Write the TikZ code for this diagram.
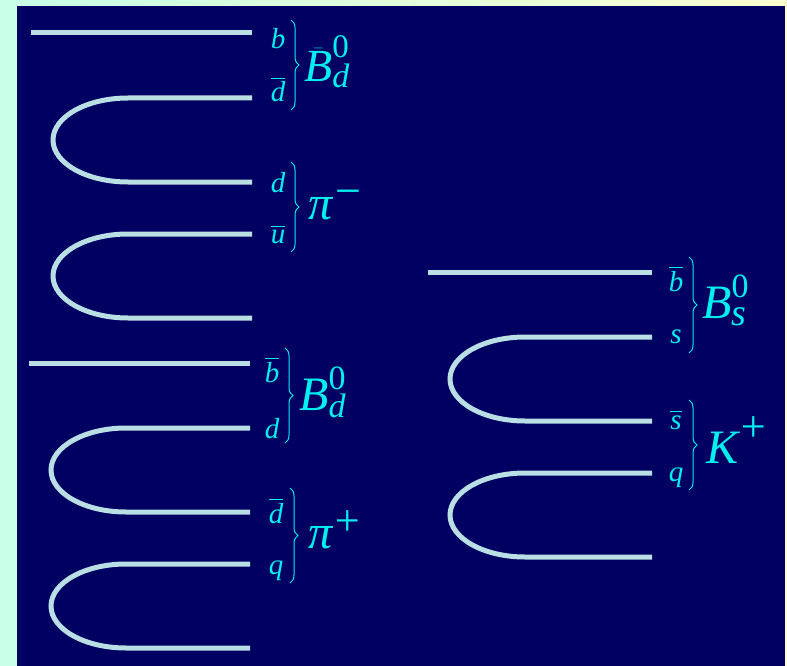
\documentclass[tikz,border=0pt]{standalone}
\usepackage{amsmath}
\usepackage{fontspec}
\setmainfont{Liberation Serif}
\usetikzlibrary{decorations.pathreplacing}

\definecolor{navy}{RGB}{0,0,98}
\definecolor{quarkline}{RGB}{185,222,228}
\definecolor{labelcyan}{RGB}{0,240,240}
\definecolor{mint}{RGB}{200,255,230}
\definecolor{cream}{RGB}{252,255,208}

% large scripts of the meson names
\newcommand{\mesonscr}[2][34]{\text{\fontsize{#1}{#1}\selectfont #2}}

\begin{document}
\begin{tikzpicture}[x=1pt, y=1pt,
  quark/.style={draw=quarkline, line width=5pt},
  flav/.style={text=labelcyan, inner sep=0pt, anchor=base,
    font=\fontsize{29}{29}\selectfont\itshape},
  meson/.style={text=labelcyan, inner sep=0pt, anchor=west,
    font=\fontsize{48}{48}\selectfont\itshape},
  brc/.style={draw=labelcyan, line width=1pt, decorate,
    decoration={brace, amplitude=8pt}}]
  \useasboundingbox (0,0) rectangle (787,-666);
  \shade[left color=mint, right color=cream] (0,0) rectangle (787,-666);
  \fill[navy] (17,-6) rectangle (785,-666);

  % spectator (straight) quark lines
  \draw[quark] (31,-33) -- (252,-33);
  \draw[quark] (29,-363) -- (250,-363);
  \draw[quark] (428,-272) -- (652,-272);
  % pair-created quark lines: start x / upper y / end x
  \foreach \x/\y/\e in {128/98/252, 128/234/252, 126/428/250,
                        126/564/250, 525/337/652, 525/473/652} {
    \draw[quark] (\e,-\y) -- (\x,-\y)
      arc[start angle=90, end angle=270, x radius=75, y radius=42]
      -- (\e,-\y-84);
  }

  % B-bar_d -> pi-
  \node[flav] (b1) at (278,-49) {b};
  \node[flav] (db1) at (278,-102) {$\overline{\text{d}}$};
  \node[flav] (d1) at (278,-193) {d};
  \node[flav] (ub1) at (278,-243) {$\overline{\text{u}}$};
  \coordinate (br1a) at (291,-20);
  \coordinate (br1b) at (291,-110);
  \coordinate (br2a) at (291,-162);
  \coordinate (br2b) at (291,-252);
  \draw[brc] (br1a) -- (br1b);
  \draw[brc] (br2a) -- (br2b);
  \node[meson, font=\fontsize{46}{46}\selectfont\itshape] (Bbar) at (304,-62)
    {$\bar{\text{B}}^{\mesonscr[33]{\upshape 0}}_{\mesonscr[34]{d}}$};
  \node[meson] (pim) at (308,-205)
    {$\text{π}^{\mesonscr[46]{−}}$};

  % B_d -> pi+
  \node[flav] (bb2) at (272,-382) {$\overline{\text{b}}$};
  \node[flav] (d2) at (272,-438) {d};
  \node[flav] (db2) at (276,-523) {$\overline{\text{d}}$};
  \node[flav] (q2) at (276,-574) {q};
  \coordinate (br3a) at (285,-348);
  \coordinate (br3b) at (285,-443);
  \coordinate (br4a) at (290,-488);
  \coordinate (br4b) at (290,-583);
  \draw[brc] (br3a) -- (br3b);
  \draw[brc] (br4a) -- (br4b);
  \node[meson] (Bd) at (299,-392)
    {$\text{B}^{\mesonscr{\upshape 0}}_{\mesonscr{d}}$};
  \node[meson] (pip) at (308,-530)
    {$\text{π}^{\mesonscr[44]{+}}$};

  % B_s -> K+
  \node[flav] (bb3) at (676,-291) {$\overline{\text{b}}$};
  \node[flav] (s3) at (676,-343) {s};
  \node[flav] (sb3) at (676,-429) {$\overline{\text{s}}$};
  \node[flav] (q3) at (676,-481) {q};
  \coordinate (br5a) at (689,-257);
  \coordinate (br5b) at (689,-353);
  \coordinate (br6a) at (689,-400);
  \coordinate (br6b) at (689,-490);
  \draw[brc] (br5a) -- (br5b);
  \draw[brc] (br6a) -- (br6b);
  \node[meson] (Bs) at (702,-300)
    {$\text{B}^{\mesonscr{\upshape 0}}_{\mesonscr[38]{s}}$};
  \node[meson] (Kp) at (706,-440)
    {$\text{K}^{\mesonscr[44]{+}}$};
\end{tikzpicture}
\end{document}
